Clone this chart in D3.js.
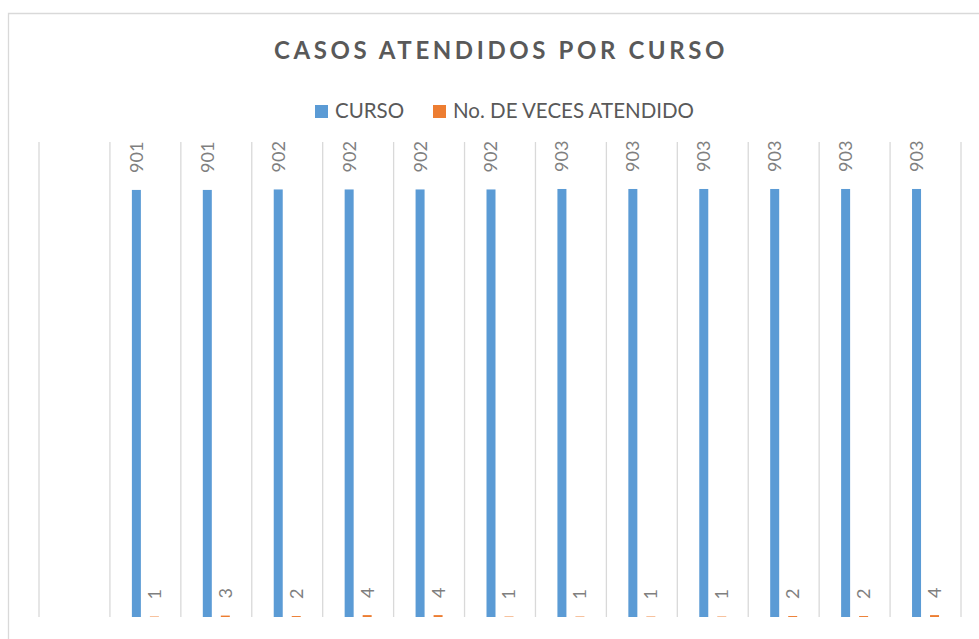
<!DOCTYPE html>
<html>
<head>
<meta charset="utf-8">
<script src="https://cdn.jsdelivr.net/npm/d3@7/dist/d3.min.js"></script>
<style>
  html, body { margin: 0; padding: 0; background: #fff; }
  svg { display: block; }
</style>
</head>
<body>
<svg id="chart" width="979" height="639"></svg>
<script>
// Data
const categories = ["", "1", "2", "3", "4", "5", "6", "7", "8", "9", "10", "11", "12"];
const curso = [null, 901, 901, 902, 902, 902, 902, 903, 903, 903, 903, 903, 903];
const veces = [null, 1, 3, 2, 4, 4, 1, 1, 1, 1, 2, 2, 4];
const seriesNames = ["CURSO", "No. DE VECES ATENDIDO"];
const colors = ["#5B9BD5", "#ED7D31"];
const yDomain = [0, 1000];

const svg = d3.select("#chart");
const W = 979, H = 639;
const plot = { left: 39, right: 961, top: 143, bottom: 617 };

// Chart border
svg.append("path")
  .attr("d", `M8.5,${H + 5} L8.5,13.5 L${W + 5},13.5`)
  .attr("fill", "none")
  .attr("stroke", "#D9D9D9")
  .attr("stroke-width", 1.3);

// Title
svg.append("text")
  .attr("x", 501).attr("y", 59)
  .attr("text-anchor", "middle")
  .attr("font-family", "Lato, 'Open Sans', sans-serif")
  .attr("font-weight", 700)
  .attr("font-size", 24)
  .attr("letter-spacing", 3.6)
  .attr("fill", "#595959")
  .text("CASOS ATENDIDOS POR CURSO");

// Legend
const legendItems = [
  { name: seriesNames[0], color: colors[0], x: 315 },
  { name: seriesNames[1], color: colors[1], x: 433 }
];
const lg = svg.append("g");
legendItems.forEach(it => {
  lg.append("rect").attr("x", it.x).attr("y", 105).attr("width", 13).attr("height", 13).attr("fill", it.color);
  lg.append("text").attr("x", it.x + 20).attr("y", 117.5)
    .attr("font-family", "Lato, 'Open Sans', sans-serif")
    .attr("font-size", 20.5)
    .attr("fill", "#595959")
    .text(it.name);
});

// Scales
const x = d3.scaleBand().domain(categories.map((c, i) => i)).range([plot.left, plot.right]).padding(0);
const y = d3.scaleLinear().domain(yDomain).range([plot.bottom, plot.top]);
const sub = d3.scaleBand().domain([0, 1]).range([-18, 18]).paddingInner(0.5).paddingOuter(0.25);

// Vertical gridlines at category boundaries
const bounds = categories.map((c, i) => x(i)).concat([x(categories.length - 1) + x.bandwidth()]);
svg.append("g").selectAll("line").data(bounds).join("line")
  .attr("x1", d => d).attr("x2", d => d)
  .attr("y1", plot.top - 1).attr("y2", plot.bottom)
  .attr("stroke", "#D9D9D9").attr("stroke-width", 1.3);

// Bars
const series = [curso, veces];
series.forEach((vals, s) => {
  const data = vals.map((v, i) => ({ i, v })).filter(d => d.v != null);
  const g = svg.append("g");
  g.selectAll("rect").data(data).join("rect")
    .attr("x", d => x(d.i) + x.bandwidth() / 2 + sub(s))
    .attr("width", sub.bandwidth())
    .attr("y", d => y(d.v))
    .attr("height", d => y(0) - y(d.v))
    .attr("fill", colors[s]);
  g.selectAll("text").data(data).join("text")
    .attr("transform", d => {
      const cx = x(d.i) + x.bandwidth() / 2 + sub(s) + sub.bandwidth() / 2;
      const cy = y(d.v) - 17;
      return `translate(${cx},${cy}) rotate(-90)`;
    })
    .attr("dy", "0.36em")
    .attr("font-family", "Lato, 'Open Sans', sans-serif")
    .attr("font-weight", 400)
    .attr("font-size", 18)
    .attr("fill", "#7F7F7F")
    .text(d => d.v);
});
</script>
</body>
</html>
